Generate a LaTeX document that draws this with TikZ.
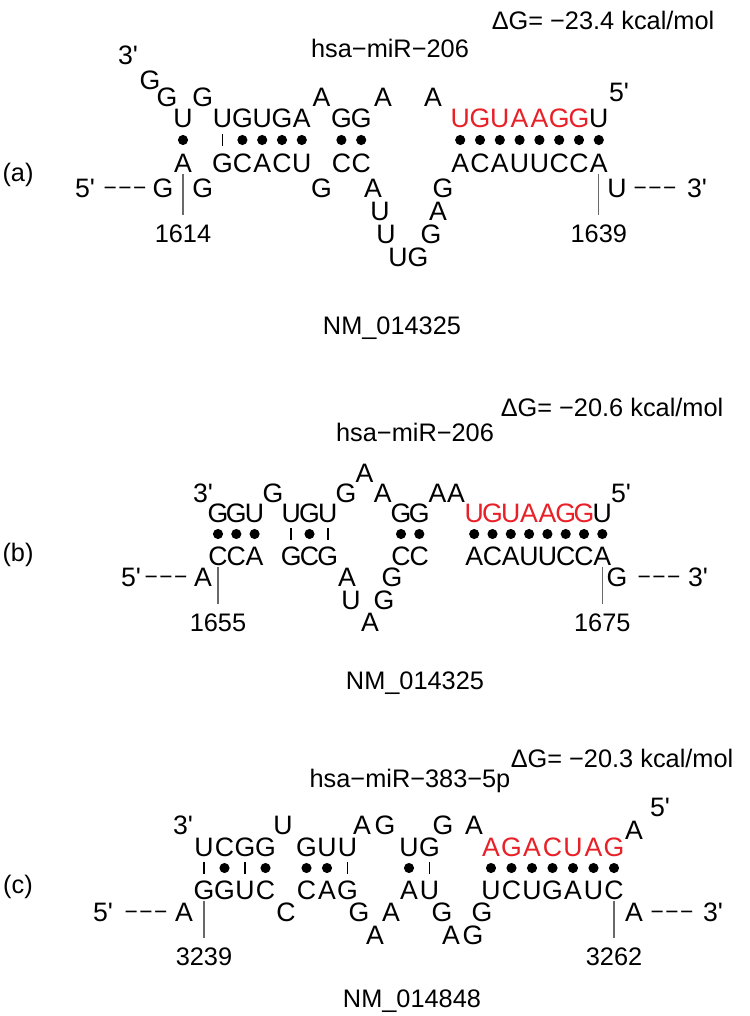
\documentclass[tikz,border=0pt]{standalone}
\usepackage{fontspec}
\setmainfont{Liberation Sans}[Ligatures=TeXOff]
\definecolor{mirred}{RGB}{232,32,40}
\definecolor{posgray}{RGB}{105,105,105}
\newcommand\dashtxt{−\kern1.2pt−\kern1.2pt−}
\tikzset{
  lb/.style={inner sep=0pt, text height=13.6pt, text depth=0pt, anchor=center, font=\fontsize{19}{19}\selectfont},
  nt/.style={inner sep=0pt, text height=14.3pt, text depth=0pt, anchor=center, font=\fontsize{20}{20}\selectfont},
  dsh/.style={inner sep=0pt, text height=10.9pt, text depth=0pt, anchor=center, font=\fontsize{17}{17}\selectfont},
  rd/.style={nt, text=mirred},
  bp/.style={circle, fill=black, inner sep=0pt, minimum size=7.6pt},
  wb/.style={rectangle, fill=black, inner sep=0pt, minimum width=1.1pt, minimum height=9.5pt},
  posline/.style={draw=posgray, line width=0.9pt, shorten <=1pt, shorten >=6.5pt},
}
\begin{document}
\begin{tikzpicture}[x=0.75pt,y=-0.75pt]
\useasboundingbox (0,0) rectangle (749,1016);
% ---------------- panel (a) ----------------
\def\Xa{183}\def\Pa{19.8}
\node[lb] (a-lab) at (18,172) {(a)};
\node[lb] (a-dg) at (603,20) {ΔG= −23.4 kcal/mol};
\node[lb] (a-mi) at (390,48) {hsa−miR−206};
\node[lb] (a-nm) at (392,325) {NM\_014325};
\foreach \c/\ch in {0/U,2/U,3/G,4/U,5/G,6/A,8/G,9/G,21/U}
  \node[nt] (a-t\c) at ({\Xa+\Pa*\c},118) {\ch};
\foreach \c/\ch in {14/U,15/G,16/U,17/A,18/A,19/G,20/G}
  \node[rd] (a-t\c) at ({\Xa+\Pa*\c},118) {\ch};
\foreach \c in {0,3,4,5,6,8,9,14,15,...,21}
  \node[bp] (a-d\c) at ({\Xa+\Pa*\c},140) {};
\node[wb] (a-w2) at ({\Xa+\Pa*2},140) {};
\foreach \c/\ch in {0/A,2/G,3/C,4/A,5/C,6/U,8/C,9/C,14/A,15/C,16/A,17/U,18/U,19/C,20/C,21/A}
  \node[nt] (a-b\c) at ({\Xa+\Pa*\c},163) {\ch};
\node[nt] (a-3p) at (128,55) {3'};
\node[nt] (a-g1) at (150,80) {G};
\node[nt] (a-g2) at (167,97) {G};
\node[nt] (a-g3) at ({\Xa+\Pa*1},97) {G};
\node[nt] (a-a1) at ({\Xa+\Pa*7},97) {A};
\node[nt] (a-a2) at (383,97) {A};
\node[nt] (a-a3) at (433,97) {A};
\node[nt] (a-5p) at (619,92) {5'};
\node[nt] (a-5e) at (85,188) {5'};
\node[dsh] (a-da) at (125,188) {\dashtxt};
\node[nt] (a-g4) at (163,188) {G};
\node[nt] (a-g5) at ({\Xa+\Pa*1},188) {G};
\node[nt] (a-g6) at ({\Xa+\Pa*7},188) {G};
\node[nt] (a-l1) at (373,188) {A};
\node[nt] (a-l8) at (443,188) {G};
\node[nt] (a-u9) at (617,188) {U};
\node[dsh] (a-db) at (655,188) {\dashtxt};
\node[nt] (a-3e) at (697,188) {3'};
\node[nt] (a-l2) at (380,211) {U};
\node[nt] (a-l7) at (438,211) {A};
\node[lb] (a-n1) at (\Xa,233) {1614};
\node[nt] (a-l3) at (386,234) {U};
\node[nt] (a-l6) at (431,234) {G};
\node[lb] (a-n2) at ({\Xa+\Pa*21},233) {1639};
\node[nt] (a-l4) at (398,257) {U};
\node[nt] (a-l5) at (418,257) {G};
\draw[posline] (a-b0.south) -- (a-n1.north);
\draw[posline] (a-b21.south) -- (a-n2.north);
% ---------------- panel (b) ----------------
\def\Xb{218}\def\Pb{18.3}
\node[lb] (b-lab) at (18,552) {(b)};
\node[lb] (b-dg) at (612,407) {ΔG= −20.6 kcal/mol};
\node[lb] (b-mi) at (415,432) {hsa−miR−206};
\node[lb] (b-nm) at (415,680) {NM\_014325};
\foreach \c/\ch in {0/G,1/G,2/U,4/U,5/G,6/U,10/G,11/G,21/U}
  \node[nt] (b-t\c) at ({\Xb+\Pb*\c},513) {\ch};
\foreach \c/\ch in {14/U,15/G,16/U,17/A,18/A,19/G,20/G}
  \node[rd] (b-t\c) at ({\Xb+\Pb*\c},513) {\ch};
\foreach \c in {0,1,2,5,10,11,14,15,...,21}
  \node[bp] (b-d\c) at ({\Xb+\Pb*\c},534) {};
\foreach \c in {4,6}
  \node[wb] (b-w\c) at ({\Xb+\Pb*\c},534) {};
\foreach \c/\ch in {0/C,1/C,2/A,4/G,5/C,6/G,10/C,11/C,14/A,15/C,16/A,17/U,18/U,19/C,20/C,21/A}
  \node[nt] (b-b\c) at ({\Xb+\Pb*\c},556) {\ch};
\node[nt] (b-3p) at (203,493) {3'};
\node[nt] (b-g1) at ({\Xb+\Pb*3},493) {G};
\node[nt] (b-g2) at ({\Xb+\Pb*7},493) {G};
\node[nt] (b-a0) at ({\Xb+\Pb*8},473) {A};
\node[nt] (b-a1) at ({\Xb+\Pb*9},493) {A};
\node[nt] (b-a2) at ({\Xb+\Pb*12},493) {A};
\node[nt] (b-a3) at ({\Xb+\Pb*13},493) {A};
\node[nt] (b-5p) at (621,493) {5'};
\node[nt] (b-5e) at (131,577) {5'};
\node[dsh] (b-da) at (166,577) {\dashtxt};
\node[nt] (b-a4) at (203,577) {A};
\node[nt] (b-l1) at (347,577) {A};
\node[nt] (b-l5) at (392,577) {G};
\node[nt] (b-g9) at (617,577) {G};
\node[dsh] (b-db) at (659,577) {\dashtxt};
\node[nt] (b-3e) at (698,577) {3'};
\node[nt] (b-l2) at (351,600) {U};
\node[nt] (b-l4) at (384,600) {G};
\node[lb] (b-n1) at (\Xb,622) {1655};
\node[nt] (b-l3) at (370,622) {A};
\node[lb] (b-n2) at ({\Xb+\Pb*21},622) {1675};
\draw[posline] (b-b0.south) -- (b-n1.north);
\draw[posline] (b-b21.south) -- (b-n2.north);
% ---------------- panel (c) ----------------
\def\Xc{204}\def\Pc{20.5}
\node[lb] (c-lab) at (18,884) {(c)};
\node[lb] (c-dg) at (622,758) {ΔG= −20.3 kcal/mol};
\node[lb] (c-mi) at (410,778) {hsa−miR−383−5p};
\node[lb] (c-nm) at (412,998) {NM\_014848};
\foreach \c/\ch in {0/U,1/C,2/G,3/G,5/G,6/U,7/U,10/U,11/G}
  \node[nt] (c-t\c) at ({\Xc+\Pc*\c},847) {\ch};
\foreach \c/\ch in {14/A,15/G,16/A,17/C,18/U,19/A,20/G}
  \node[rd] (c-t\c) at ({\Xc+\Pc*\c},847) {\ch};
\foreach \c in {1,3,5,6,10,14,15,...,20}
  \node[bp] (c-d\c) at ({\Xc+\Pc*\c},868) {};
\foreach \c in {0,2,7,11}
  \node[wb] (c-w\c) at ({\Xc+\Pc*\c},868) {};
\foreach \c/\ch in {0/G,1/G,2/U,3/C,5/C,6/A,7/G,10/A,11/U,14/U,15/C,16/U,17/G,18/A,19/U,20/C}
  \node[nt] (c-b\c) at ({\Xc+\Pc*\c},890) {\ch};
\node[nt] (c-3p) at (183,825) {3'};
\node[nt] (c-u1) at (283,825) {U};
\node[nt] (c-a1) at (362,825) {A};
\node[nt] (c-g1) at (385,825) {G};
\node[nt] (c-g2) at (443,825) {G};
\node[nt] (c-a2) at (474,825) {A};
\node[nt] (c-a3) at (634,830) {A};
\node[nt] (c-5p) at (660,807) {5'};
\node[nt] (c-5e) at (103,912) {5'};
\node[dsh] (c-da) at (146,912) {\dashtxt};
\node[nt] (c-a4) at (184,912) {A};
\node[nt] (c-c1) at ({\Xc+\Pc*4},912) {C};
\node[nt] (c-l1) at (359,912) {G};
\node[nt] (c-l3) at (391,912) {A};
\node[nt] (c-m1) at (442,912) {G};
\node[nt] (c-m4) at (482,912) {G};
\node[nt] (c-a5) at (634,912) {A};
\node[dsh] (c-db) at (672,912) {\dashtxt};
\node[nt] (c-3e) at (713,912) {3'};
\node[nt] (c-l2) at (375,935) {A};
\node[nt] (c-m2) at (451,935) {A};
\node[nt] (c-m3) at (473,935) {G};
\node[lb] (c-n1) at (\Xc,956) {3239};
\node[lb] (c-n2) at ({\Xc+\Pc*20},956) {3262};
\draw[posline] (c-b0.south) -- (c-n1.north);
\draw[posline] (c-b20.south) -- (c-n2.north);
\end{tikzpicture}
\end{document}
